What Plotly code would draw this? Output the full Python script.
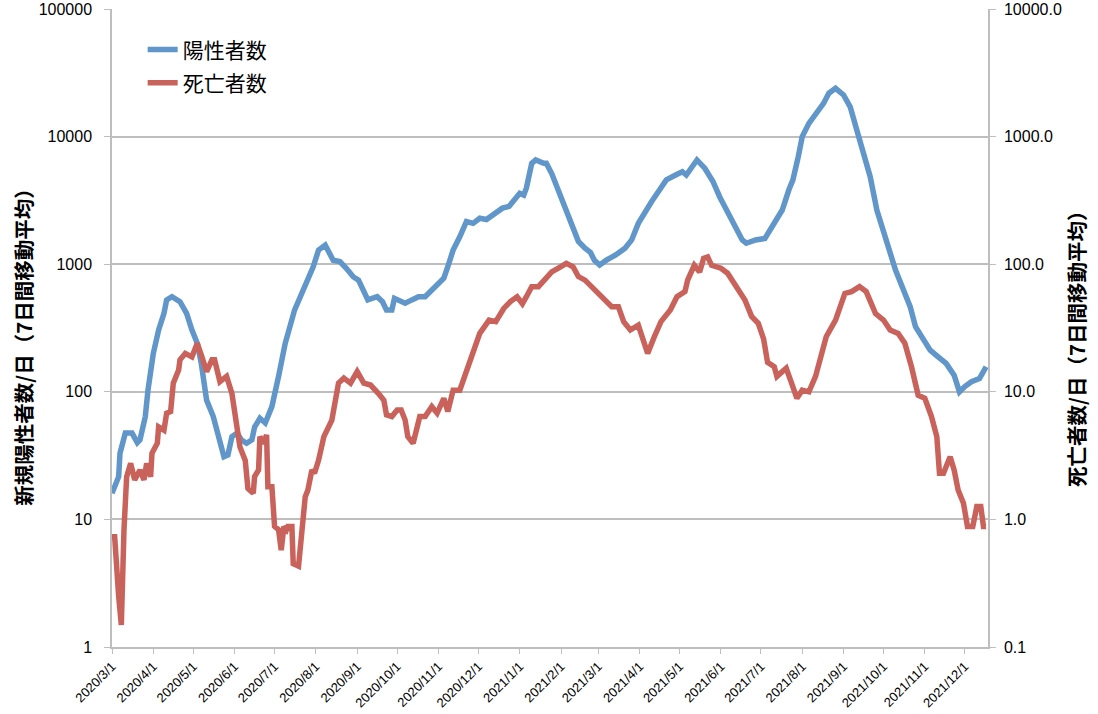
import pandas as pd
import plotly.graph_objects as go

# days counted from 2020/3/1 (7-day moving averages)
pos_days = [0, 5, 6, 10, 15, 19, 21, 25, 27, 31, 35, 39, 41, 45, 51, 56, 60, 64, 67, 71,
            76, 81, 84, 87, 90, 94, 97, 101, 105, 107, 111, 115, 120, 125, 130, 137, 145, 151, 155, 160,
            166, 171, 176, 181, 185, 189, 192, 199, 203, 206, 210, 212, 220, 225, 230, 235, 240, 245, 249, 252,
            256, 261, 266, 271, 276, 281, 288, 293, 298, 303, 306, 309, 311, 315, 318, 324, 326, 330, 336, 341,
            346, 350, 355, 359, 362, 366, 371, 378, 385, 390, 395, 400, 405, 411, 416, 423, 428, 431, 435, 439,
            445, 451, 456, 463, 468, 473, 476, 483, 490, 497, 503, 508, 511, 515, 518, 523, 528, 534, 538, 543,
            549, 554, 559, 564, 569, 574, 578, 583, 588, 594, 599, 603, 608, 614, 620, 626, 632, 636, 640, 645,
            651, 656]
pos_vals = [16, 21.6, 33, 47.5, 47.5, 40, 42, 64, 103, 200, 305, 412, 525, 556, 508, 412, 305, 240, 167, 86,
            64, 39.5, 31, 32, 44.5, 47.5, 42, 39.5, 42, 53, 62, 57, 76.5, 132, 240, 437, 667, 955, 1290, 1410,
            1075, 1050, 925, 797, 751, 590, 525, 556, 508, 437, 437, 540, 494, 525, 556, 556, 627, 710, 777, 955,
            1290, 1640, 2160, 2090, 2290, 2240, 2570, 2750, 2840, 3270, 3590, 3480, 3960, 6170, 6560, 6170, 6170, 5130, 3590, 2510,
            1860, 1510, 1335, 1240, 1075, 985, 1075, 1180, 1335, 1550, 2090, 2570, 3100, 3830, 4580, 5000, 5310, 5000, 5630, 6560,
            5630, 4450, 3380, 2430, 1970, 1550, 1460, 1550, 1590, 2090, 2660, 3830, 4580, 6940, 10000, 12700, 14700, 18200, 21900, 23900,
            21200, 17100, 11200, 7370, 4850, 2660, 1970, 1290, 900, 627, 465, 324, 270, 212, 188, 167, 135, 100, 110, 120,
            127, 157]

death_days = [0, 2, 5, 6, 7, 9, 11, 14, 17, 21, 24, 26, 29, 30, 34, 35, 39, 41, 44, 46,
              50, 51, 55, 60, 64, 67, 71, 75, 77, 81, 86, 90, 93, 96, 100, 102, 106, 107, 110, 111,
              114, 116, 117, 120, 122, 125, 127, 129, 131, 132, 135, 136, 140, 142, 145, 147, 150, 152, 155, 159,
              162, 165, 170, 174, 179, 184, 189, 194, 200, 204, 206, 210, 214, 217, 220, 222, 226, 231, 235, 240,
              244, 249, 252, 256, 261, 265, 271, 276, 283, 288, 294, 299, 304, 308, 311, 315, 320, 325, 330, 335,
              341, 346, 350, 355, 360, 365, 370, 375, 380, 384, 389, 395, 397, 402, 407, 412, 419, 424, 430, 432,
              437, 441, 444, 447, 450, 457, 462, 469, 475, 480, 485, 489, 492, 497, 499, 503, 506, 510, 514, 518,
              523, 528, 531, 536, 543, 550, 555, 561, 566, 573, 579, 584, 590, 595, 600, 605, 610, 615, 619, 621,
              624, 629, 632, 635, 639, 642, 646, 649, 652, 654, 656]
death_vals = [0.73, 0.73, 0.25, 0.149, 0.149, 0.83, 2.16, 2.75, 2.04, 2.44, 2.04, 2.75, 2.16, 3.3, 3.95, 5.3, 5.0, 6.8, 7.0, 11.7,
              14.8, 17.8, 20, 18.8, 24, 19.5, 14.4, 17.8, 17.8, 12, 13.2, 9.7, 5.7, 3.7, 2.9, 1.75, 1.6, 2.16, 2.44, 4.45,
              3.95, 4.6, 1.8, 1.8, 0.88, 0.83, 0.575, 0.88, 0.83, 0.88, 0.88, 0.45, 0.43, 0.69, 1.5, 1.7, 2.44, 2.3, 2.9, 4.45,
              5.3, 6.0, 11.7, 12.8, 11.7, 14.4, 11.7, 11.3, 9.7, 8.6, 6.6, 6.4, 7.2, 7.2, 6.0, 4.45, 3.95, 6.4, 6.4, 7.65,
              6.8, 8.9, 7.0, 10.3, 10.3, 13.5, 20, 28.7, 36.5, 35.5, 45, 51, 55.6, 49, 55.6, 66.7, 66.7, 75, 87, 93,
              101.6, 95.5, 80, 75, 66.7, 59, 54, 46.5, 46.5, 35.5, 30.5, 33.3, 28.7, 20, 27, 35.5, 43.7, 55.6, 61, 75,
              98, 87, 111, 114, 98, 93, 85, 66.7, 52.5, 39, 34.4, 26, 17, 15.7, 13.2, 14.4, 15.3, 11.7, 8.9, 10.3,
              10.0, 13.2, 17.8, 27, 36.5, 59, 61, 66.7, 61, 41, 36.5, 30.5, 28.7, 24, 15.7, 9.4, 8.9, 6.4, 4.45, 2.3,
              2.3, 3.1, 2.44, 1.7, 1.34, 0.88, 0.88, 1.26, 1.26, 0.88, 0.88]

left_ticks = [1, 10, 100, 1000, 10000, 100000]
left_labels = ["1", "10", "100", "1000", "10000", "100000"]
right_ticks = [0.1, 1, 10, 100, 1000, 10000]
right_labels = ["0.1", "1.0", "10.0", "100.0", "1000.0", "10000.0"]

start = pd.Timestamp("2020-03-01")
pos_dates = start + pd.to_timedelta(pos_days, unit="D")
death_dates = start + pd.to_timedelta(death_days, unit="D")

JP = "Noto Sans CJK JP"
NUM = "Liberation Sans, Arial, sans-serif"
GRID = "#BEBEBE"

fig = go.Figure()
fig.add_trace(go.Scatter(x=pos_dates, y=pos_vals, name="陽性者数", mode="lines",
                         legendgroup="pos",
                         line=dict(color="#6096C9", width=5.5)))
fig.add_trace(go.Scatter(x=death_dates, y=death_vals, name="死亡者数", mode="lines",
                         legendgroup="death",
                         line=dict(color="#CA625C", width=5.5), yaxis="y2"))

fig.update_layout(
    width=1098, height=714,
    margin=dict(l=112, r=110, t=9, b=67),
    paper_bgcolor="white", plot_bgcolor="white",
    showlegend=True,
    legend=dict(x=0.035, y=0.968, xanchor="left", yanchor="top",
                font=dict(family=JP, size=21, color="black"),
                traceorder="grouped", tracegroupgap=3,
                bgcolor="rgba(0,0,0,0)", itemwidth=30),
    xaxis=dict(type="date", range=["2020-03-01", "2021-12-18 10:00"], automargin=False,
               tick0="2020-03-01", dtick="M1", tickformat="%Y/%-m/%-d",
               tickangle=-45, tickfont=dict(family=NUM, size=13, color="black"),
               ticks="outside", ticklen=5, tickcolor=GRID,
               showline=True, linecolor=GRID, linewidth=1.5, showgrid=False),
    yaxis=dict(type="log", range=[0, 5], tickvals=left_ticks, ticktext=left_labels,
               automargin=False,
               tickfont=dict(family=NUM, size=16, color="black"),
               ticks="outside", ticklen=6, tickcolor=GRID, ticklabelstandoff=9,
               showline=True, linecolor=GRID, linewidth=1.5,
               showgrid=True, gridcolor=GRID, gridwidth=1.5),
    yaxis2=dict(type="log", range=[-1, 4], overlaying="y", side="right",
                tickvals=right_ticks, ticktext=right_labels, automargin=False,
                tickfont=dict(family=NUM, size=16, color="black"),
                ticks="outside", ticklen=6, tickcolor=GRID, ticklabelstandoff=5,
                showline=True, linecolor=GRID, linewidth=1.5, showgrid=False),
)

# axis titles as rotated annotations so they sit where the original puts them
fig.add_annotation(text="<b>新規陽性者数/日（7日間移動平均）</b>", textangle=-90,
                   xref="paper", yref="paper", x=-0.102, y=0.478,
                   xanchor="center", yanchor="middle", showarrow=False,
                   font=dict(family=JP, size=20.5, color="black"))
fig.add_annotation(text="<b>死亡者数/日（7日間移動平均）</b>", textangle=-90,
                   xref="paper", yref="paper", x=1.1005, y=0.475,
                   xanchor="center", yanchor="middle", showarrow=False,
                   font=dict(family=JP, size=20.5, color="black"))

# drop the page's default body margin so the figure sits at the window's corner
fig.write_html("out.html", config={"displayModeBar": False},
               post_script="document.body.style.margin='0px';")
